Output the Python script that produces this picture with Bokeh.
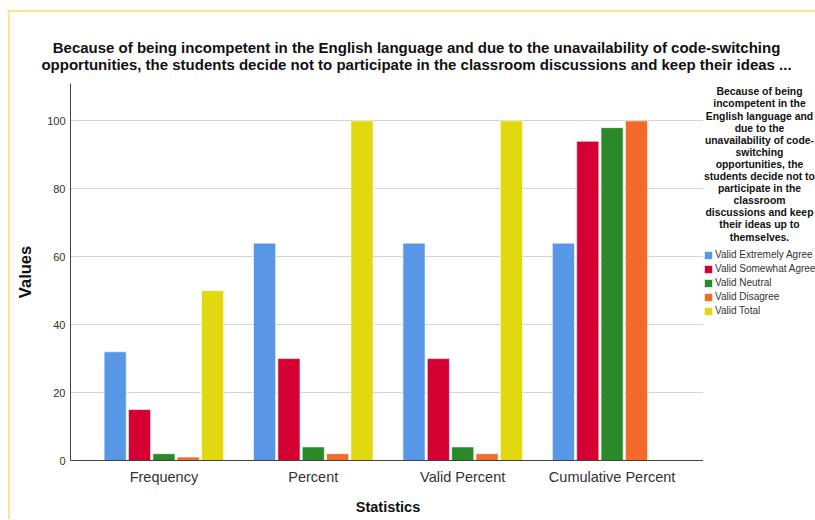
from bokeh.plotting import figure
from bokeh.layouts import column, row
from bokeh.models import (ColumnDataSource, FactorRange, Range1d, Label, FixedTicker)
from bokeh.transform import dodge
from bokeh.embed import file_html
from bokeh.resources import INLINE

# Response counts and percentages per statistic
statistics = ["Frequency", "Percent", "Valid Percent", "Cumulative Percent"]
responses = ["Valid Extremely Agree", "Valid Somewhat Agree", "Valid Neutral",
             "Valid Disagree", "Valid Total"]
extremely_agree = [32, 64, 64, 64]
somewhat_agree = [15, 30, 30, 94]
neutral = [2, 4, 4, 98]
disagree = [1, 2, 2, 100]
total = [50, 100, 100, float("nan")]

chart_title = ("Because of being incompetent in the English language and due to the unavailability of code-switching\n"
               "opportunities, the students decide not to participate in the classroom discussions and keep their ideas ...")
legend_heading = ("Because of being\nincompetent in the\nEnglish language and\ndue to the\n"
                  "unavailability of code-\nswitching\nopportunities, the\nstudents decide not to\n"
                  "participate in the\nclassroom\ndiscussions and keep\ntheir ideas up to\nthemselves.")

colors = ["#5797E5", "#D50032", "#2A8A2A", "#F46A2A", "#E2D80F"]
series = [extremely_agree, somewhat_agree, neutral, disagree, total]
keys = ["ea", "sa", "ne", "di", "to"]

data = {"stat": statistics}
for k, s in zip(keys, series):
    data[k] = s
source = ColumnDataSource(data)

FONT = "Liberation Sans"
FRAME = "2px solid #FDE48C"
BORDER_TOP, BORDER_BOTTOM = 9, 59


def blank(width, height, **kw):
    f = figure(width=width, height=height, x_range=Range1d(0, 1), y_range=Range1d(0, 1),
               x_axis_type=None, y_axis_type=None, output_backend="svg",
               toolbar_location=None, **kw)
    f.outline_line_color = None
    f.grid.visible = False
    return f


# title strip
head = blank(807, 64, min_border=0, margin=(10, 0, 0, 8),
             styles={"border-left": FRAME, "border-top": FRAME})
head.add_layout(Label(
    x=406, y=21, x_units="screen", y_units="screen", text=chart_title,
    text_align="center", text_baseline="middle", text_font=FONT, text_font_style="bold",
    text_font_size="15px", text_line_height=1.0, text_color="#111111",
))

# bar chart
p = figure(
    width=695, height=445,
    x_range=FactorRange(factors=statistics, range_padding=0.125, range_padding_units="absolute"),
    y_range=Range1d(0, 111),
    output_backend="svg", toolbar_location=None,
    min_border_left=60, min_border_right=0,
    min_border_top=BORDER_TOP, min_border_bottom=BORDER_BOTTOM,
    margin=(0, 0, 0, 8), styles={"border-left": FRAME},
)
p.outline_line_color = None

offsets = [-0.326, -0.163, 0.0, 0.163, 0.326]
for k, off, c in zip(keys, offsets, colors):
    p.vbar(x=dodge("stat", off, range=p.x_range), top=k, width=0.148, source=source,
           fill_color=c, line_color="white", line_alpha=0.6, line_width=1)

p.xgrid.grid_line_color = None
p.ygrid.grid_line_color = "#d4d4d4"
p.ygrid.ticker = FixedTicker(ticks=[20, 40, 60, 80, 100])
p.yaxis.ticker = FixedTicker(ticks=[0, 20, 40, 60, 80, 100])
for ax in (p.xaxis[0], p.yaxis[0]):
    ax.axis_line_color = "#444444"
    ax.major_tick_line_color = None
    ax.major_tick_out = 0
    ax.major_tick_in = 0
    ax.minor_tick_line_color = None
    ax.minor_tick_out = 0
    ax.major_label_text_font = FONT
    ax.major_label_text_color = "#333333"
    ax.axis_label_text_font = FONT
    ax.axis_label_text_font_style = "bold"
    ax.axis_label_text_color = "#111111"

p.yaxis.major_label_text_font_size = "11px"
p.yaxis.major_label_standoff = 5
p.yaxis.axis_label = "Values"
p.yaxis.axis_label_text_font_size = "16.5px"
p.yaxis.axis_label_standoff = 10
p.xaxis.major_label_text_font_size = "14.5px"
p.xaxis.major_label_standoff = 8
p.xaxis.axis_label = "Statistics"
p.xaxis.axis_label_text_font_size = "14.5px"
p.xaxis.axis_label_standoff = 11

# legend panel beside the chart
side = blank(112, 445, min_border_left=0, min_border_right=0,
             min_border_top=BORDER_TOP, min_border_bottom=BORDER_BOTTOM)
side.add_layout(Label(
    x=56, y=296, x_units="screen", y_units="screen", text=legend_heading,
    text_align="center", text_baseline="middle", text_font=FONT, text_font_style="bold",
    text_font_size="10.4px", text_line_height=1.1, text_color="#111111",
))
# zero-height keys: one legend entry per response, coloured like its bars
keys_src = ColumnDataSource(dict(x=[0.5] * len(responses), top=[0] * len(responses),
                                 color=colors, label=responses))
side.vbar(x="x", top="top", width=0.1, source=keys_src, fill_color="color",
          line_color="white", line_alpha=0.6, legend_field="label")
legend = side.legend[0]
legend.location = (0, 144)
legend.padding = 0
legend.margin = 0
legend.spacing = 3
legend.glyph_width = 10
legend.glyph_height = 10
legend.label_height = 10
legend.label_standoff = 2
legend.label_text_font = FONT
legend.label_text_font_size = "10px"
legend.label_text_color = "#333333"
legend.border_line_color = None
legend.background_fill_alpha = 0

layout = column(head, row(p, side))
open("out.html", "w").write(file_html(layout, INLINE))
